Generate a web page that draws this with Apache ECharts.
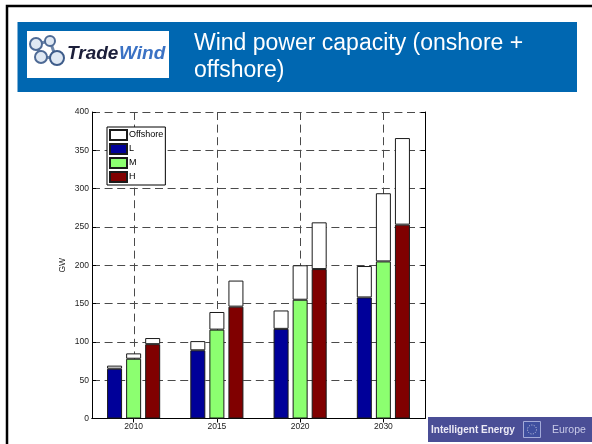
<!DOCTYPE html>
<html>
<head>
<meta charset="utf-8">
<script src="https://cdn.jsdelivr.net/npm/echarts@6/dist/echarts.min.js"></script>
<style>
html,body{margin:0;padding:0;background:#fff;}
#chart{width:592px;height:444px;}
</style>
</head>
<body>
<div id="chart"></div>
<script>
// ---- data ----
const categories = ['2010', '2015', '2020', '2030'];
const lowOnshore   = [65, 89, 117, 158];
const lowOffshore  = [4, 12, 24, 41];
const midOnshore   = [78, 116, 155, 205];
const midOffshore  = [7, 23, 45, 89];
const highOnshore  = [97, 146, 195, 253];
const highOffshore = [8, 34, 61, 113];
const legendNames = ['Offshore', 'L', 'M', 'H'];
const yMin = 0, yMax = 400, yStep = 50;
const yAxisName = 'GW';
const titleLines = ['Wind power capacity (onshore +', 'offshore)'];

// ---- styles ----
const FONT = "'Liberation Sans', Arial, sans-serif";
const colL = '#000099', colM = '#8cff70', colH = '#800000', colOff = '#ffffff';
const dash = [8, 4.6];
const gridColor = '#4a4a4a';

const chart = echarts.init(document.getElementById('chart'), null, {renderer: 'canvas'});

function barSeries(name, data, stack, color) {
  return {
    name: name, type: 'bar', stack: stack, data: data,
    barWidth: 15, barGap: '27%', z: 3,
    itemStyle: {color: color, borderColor: '#1a1a1a', borderWidth: 1},
    emphasis: {disabled: true}
  };
}

const option = {
  animation: false,
  backgroundColor: '#fff',
  textStyle: {fontFamily: FONT},
  grid: {left: 92, right: 167, top: 112, bottom: 25.5, containLabel: false},
  legend: {
    data: legendNames,
    orient: 'vertical',
    left: 107, top: 127,
    itemWidth: 17, itemHeight: 10, itemGap: 2,
    padding: [2, 2, 2, 2],
    backgroundColor: '#fff', borderColor: '#000', borderWidth: 1, borderRadius: 0,
    icon: 'rect',
    selectedMode: false,
    textStyle: {fontSize: 9, color: '#000', fontFamily: FONT, padding: [0, 0, 0, -3]}
  },
  xAxis: [
    {
      type: 'category', data: categories, position: 'bottom',
      axisLine: {show: true, lineStyle: {color: '#000', width: 1}},
      axisTick: {show: true, inside: true, length: 4, alignWithLabel: true, lineStyle: {color: '#000'}},
      axisLabel: {fontSize: 8.5, color: '#222', margin: 4, fontFamily: FONT},
      splitLine: {show: false}
    },
    {
      type: 'category', data: categories, position: 'top',
      axisLine: {show: true, lineStyle: {color: '#000', width: 1}},
      axisTick: {show: true, inside: true, length: 4, alignWithLabel: true, lineStyle: {color: '#000'}},
      axisLabel: {show: false},
      splitLine: {show: false}
    }
  ],
  yAxis: [
    {
      type: 'value', min: yMin, max: yMax, interval: yStep, position: 'left',
      name: yAxisName, nameLocation: 'middle', nameGap: 25, nameMoveOverlap: false,
      nameTextStyle: {fontSize: 8.5, color: '#222', fontFamily: FONT},
      axisLine: {show: true, lineStyle: {color: '#000', width: 1}},
      axisTick: {show: true, inside: true, length: 4, lineStyle: {color: '#000'}},
      axisLabel: {fontSize: 8.5, color: '#222', margin: 3, fontFamily: FONT},
      splitLine: {show: true, lineStyle: {color: gridColor, type: dash, width: 1}}
    },
    {
      type: 'value', min: yMin, max: yMax, interval: yStep, position: 'right',
      axisLine: {show: true, lineStyle: {color: '#000', width: 1}},
      axisTick: {show: true, inside: true, length: 4, lineStyle: {color: '#000'}},
      axisLabel: {show: false},
      splitLine: {show: false}
    }
  ],
  series: [
    {
      type: 'custom', z: 1, silent: true,
      data: categories.map(c => [c]),
      encode: {x: 0},
      renderItem: function (params, api) {
        const x = api.coord([api.value(0), yMin])[0];
        const yb = api.coord([api.value(0), yMin])[1];
        const yt = api.coord([api.value(0), yMax])[1];
        return {
          type: 'line',
          shape: {x1: Math.round(x) + 0.5, y1: yt, x2: Math.round(x) + 0.5, y2: yb},
          style: {stroke: gridColor, lineWidth: 1, lineDash: dash}
        };
      }
    },
    barSeries('L', lowOnshore, 'L', colL),
    barSeries('Offshore', lowOffshore, 'L', colOff),
    barSeries('M', midOnshore, 'M', colM),
    barSeries('Offshore', midOffshore, 'M', colOff),
    barSeries('H', highOnshore, 'H', colH),
    barSeries('Offshore', highOffshore, 'H', colOff)
  ],
  graphic: [
    // slide frame
    {type: 'rect', shape: {x: 7, y: 6, width: 700, height: 600}, style: {fill: 'none', stroke: '#000', lineWidth: 2.5}, silent: true},
    // header band
    {type: 'rect', shape: {x: 17.5, y: 22, width: 559.5, height: 70}, style: {fill: '#0067b1'}, silent: true},
    {type: 'rect', shape: {x: 27, y: 31, width: 142, height: 47}, style: {fill: '#ffffff'}, silent: true},
    // logo icon
    {type: 'group', silent: true, children: [
      {type: 'line', shape: {x1: 36, y1: 44, x2: 50, y2: 41}, style: {stroke: '#6d86aa', lineWidth: 3}},
      {type: 'line', shape: {x1: 36, y1: 44, x2: 41, y2: 57}, style: {stroke: '#6d86aa', lineWidth: 3}},
      {type: 'line', shape: {x1: 41, y1: 57, x2: 56, y2: 58}, style: {stroke: '#6d86aa', lineWidth: 3}},
      {type: 'line', shape: {x1: 50, y1: 41, x2: 56, y2: 58}, style: {stroke: '#6d86aa', lineWidth: 3}},
      {type: 'circle', shape: {cx: 36, cy: 44, r: 6}, style: {fill: '#dfe8f3', stroke: '#4e6a95', lineWidth: 2}},
      {type: 'circle', shape: {cx: 50, cy: 41, r: 5}, style: {fill: '#dfe8f3', stroke: '#4e6a95', lineWidth: 2}},
      {type: 'circle', shape: {cx: 41, cy: 57, r: 6}, style: {fill: '#dfe8f3', stroke: '#4e6a95', lineWidth: 2}},
      {type: 'circle', shape: {cx: 57, cy: 58, r: 7}, style: {fill: '#dfe8f3', stroke: '#3e5c8a', lineWidth: 2}}
    ]},
    {type: 'text', silent: true, style: {x: 67, y: 53.5, text: 'Trade', fill: '#1c1f3a', font: "italic bold 19px " + FONT, textVerticalAlign: 'middle'}},
    {type: 'text', silent: true, style: {x: 119, y: 53.5, text: 'Wind', fill: '#3b72c4', font: "italic bold 19px " + FONT, textVerticalAlign: 'middle'}},
    // title
    {type: 'text', silent: true, style: {x: 194, y: 44, text: titleLines[0], fill: '#ffffff', font: "23px " + FONT, textVerticalAlign: 'middle'}},
    {type: 'text', silent: true, style: {x: 194, y: 71, text: titleLines[1], fill: '#ffffff', font: "23px " + FONT, textVerticalAlign: 'middle'}},
    // bottom-right logo
    {type: 'rect', silent: true, shape: {x: 428, y: 417, width: 164, height: 25}, style: {fill: '#4a4e96'}},
    {type: 'text', silent: true, style: {x: 431, y: 430, text: 'Intelligent Energy', fill: '#eceaf6', font: "bold 10px " + FONT, textVerticalAlign: 'middle'}},
    {type: 'rect', silent: true, shape: {x: 523.5, y: 421.5, width: 17, height: 16}, style: {fill: '#3f4f9f', stroke: '#a3aad8', lineWidth: 1}},
    {type: 'circle', silent: true, shape: {cx: 532, cy: 429.5, r: 4.5}, style: {fill: 'none', stroke: '#c9cbe6', lineWidth: 1, lineDash: [1, 1.5]}},
    {type: 'text', silent: true, style: {x: 552, y: 430, text: 'Europe', fill: '#c9cbe8', font: "10.5px " + FONT, textVerticalAlign: 'middle'}}
  ]
};
chart.setOption(option);
</script>
</body>
</html>
